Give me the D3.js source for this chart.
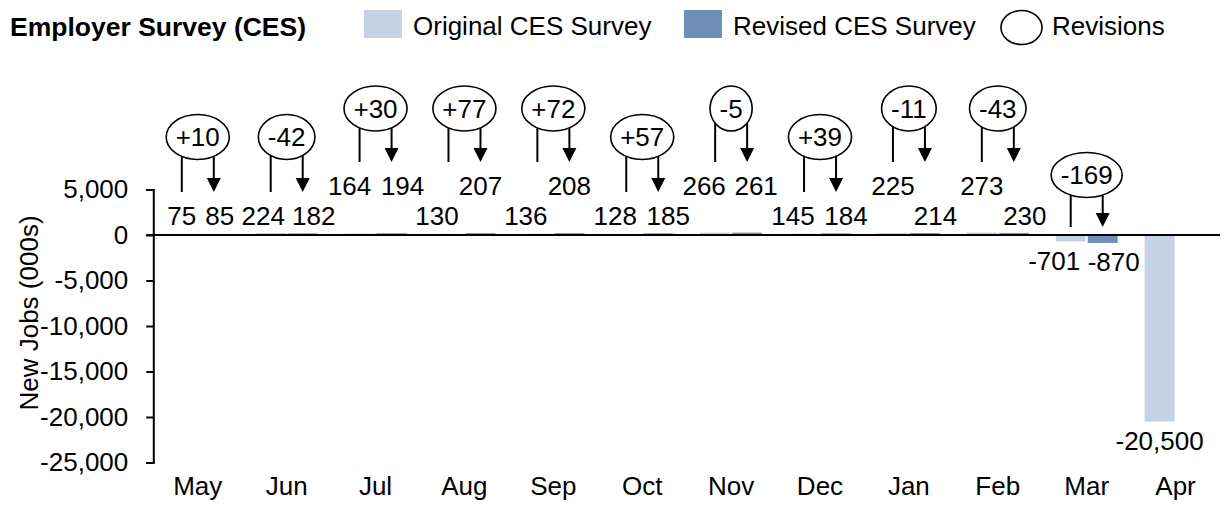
<!DOCTYPE html>
<html>
<head>
<meta charset="utf-8">
<script src="https://cdn.jsdelivr.net/npm/d3@7/dist/d3.min.js"></script>
<style>
  html, body { margin: 0; padding: 0; background: #fff; }
  svg text { font-family: "Liberation Sans", Arial, sans-serif; fill: #000; }
</style>
</head>
<body>
<script>
// ---------------- data ----------------
const categories = ["May", "Jun", "Jul", "Aug", "Sep", "Oct", "Nov", "Dec", "Jan", "Feb", "Mar", "Apr"];
const originalCES = [75, 224, 164, 130, 136, 128, 266, 145, 225, 273, -701, -20500];
const revisedCES  = [85, 182, 194, 207, 208, 185, 261, 184, 214, 230, -870, null];
const yTicks = [5000, 0, -5000, -10000, -15000, -20000, -25000];
const seriesNames = ["Original CES Survey", "Revised CES Survey", "Revisions"];

// ---------------- label layout (manual placement, as in the source) ----------------
const origLabelTier  = [0, 0, 1, 0, 0, 0, 1, 0, 1, 1, 0, 0];       // 0 = lower row, 1 = upper row
const revLabelTier   = [0, 0, 1, 1, 1, 0, 1, 0, 0, 0, 0, 0];
const origLabelShift = [0, -7.5, -10, -11.5, -11.5, -11, -11, -11, 0, 0, -16.5, 0];
const revLabelShift  = [6, 11, 11, 0, 0, 10, 9, 10, 10.5, 11, 11, 0];

// ---------------- setup ----------------
const W = 1225, H = 506, FS = 26;
const colOrig = "#C5D1E4", colRev = "#6F8FBA";
const loc = d3.formatLocale({decimal: ".", thousands: ",", grouping: [3], currency: ["$", ""], minus: "-"});
const fmt = loc.format(",");
const fmtRev = v => (v > 0 ? "+" : "") + fmt(v);

const svg = d3.select("body").append("svg").attr("width", W).attr("height", H);

const x = d3.scaleBand().domain(categories).range([153.3, 1220]);
const xs = d3.scaleBand().domain(["orig", "rev"]).range([13.5, 75.5]).paddingInner(0.0625);
const y = d3.scaleLinear().domain([-25000, 5000]).range([462.5, 189.5]);
const y0 = y(0);
const bw = xs.bandwidth();

// ---------------- bars ----------------
const rows = categories.map((c, i) => ({c, i, o: originalCES[i], r: revisedCES[i]}));

svg.append("g").selectAll("rect.o").data(rows).join("rect")
  .attr("x", d => x(d.c) + xs("orig"))
  .attr("y", d => Math.min(y(d.o), y0))
  .attr("width", bw)
  .attr("height", d => Math.abs(y(d.o) - y0))
  .attr("fill", colOrig);

svg.append("g").selectAll("rect.r").data(rows.filter(d => d.r !== null)).join("rect")
  .attr("x", d => x(d.c) + xs("rev"))
  .attr("y", d => Math.min(y(d.r), y0))
  .attr("width", bw)
  .attr("height", d => Math.abs(y(d.r) - y0))
  .attr("fill", colRev);

// ---------------- axes ----------------
const yAxis = svg.append("g").attr("transform", "translate(153.3,0)")
  .call(d3.axisLeft(y).tickValues(yTicks).tickSize(7).tickPadding(18).tickFormat(fmt));
yAxis.selectAll("path, line").attr("stroke", "#000").attr("stroke-width", 2);
yAxis.selectAll("text").attr("font-size", FS).attr("font-family", "Liberation Sans, Arial, sans-serif")
  .attr("fill", "#000");

svg.append("line").attr("x1", 146.3).attr("x2", 1220).attr("y1", y0).attr("y2", y0)
  .attr("stroke", "#000").attr("stroke-width", 2);

svg.append("g").selectAll("text").data(categories).join("text")
  .attr("x", d => x(d) + x.bandwidth() / 2)
  .attr("y", 495)
  .attr("text-anchor", "middle")
  .attr("font-size", FS)
  .text(d => d);

svg.append("text")
  .attr("transform", "translate(38,313) rotate(-90)")
  .attr("text-anchor", "middle")
  .attr("font-size", FS)
  .text("New Jobs (000s)");

// ---------------- value labels ----------------
function labelY(v, tier) {
  if (v >= 0) return y0 - (tier ? 40 : 10);
  return y(v) + 28.5;
}
const lg = svg.append("g").attr("font-size", FS).attr("text-anchor", "middle");
rows.forEach(d => {
  lg.append("text")
    .attr("x", x(d.c) + xs("orig") + bw / 2 + origLabelShift[d.i])
    .attr("y", labelY(d.o, origLabelTier[d.i]))
    .text(fmt(d.o));
  if (d.r !== null) {
    lg.append("text")
      .attr("x", x(d.c) + xs("rev") + bw / 2 + revLabelShift[d.i])
      .attr("y", labelY(d.r, revLabelTier[d.i]))
      .text(fmt(d.r));
  }
});

// ---------------- revision callouts ----------------
const ag = svg.append("g");
rows.filter(d => d.r !== null).forEach(d => {
  const rev = d.r - d.o;
  const tier = d.o < 0 ? "neg" : ((origLabelTier[d.i] || revLabelTier[d.i]) ? "high" : "low");
  const cy = y0 - {low: 98, high: 126.5, neg: 60}[tier];
  const lineBottom = y0 - {low: 43, high: 73, neg: 8}[tier];
  const cx = x(d.c) + x.bandwidth() / 2;
  const g = ag.append("g");
  const ell = g.append("ellipse");
  const t = g.append("text").attr("x", cx).attr("y", cy).attr("dy", "0.35em")
    .attr("text-anchor", "middle").attr("font-size", FS).text(fmtRev(rev));
  const tw = t.node().getComputedTextLength();
  const rx = tw / 2 + 9.5, ry = 22.5;
  ell.attr("cx", cx).attr("cy", cy).attr("rx", rx).attr("ry", ry)
    .attr("fill", "#fff").attr("stroke", "#000").attr("stroke-width", 1.6);
  const edge = xx => cy + ry * Math.sqrt(Math.max(0, 1 - Math.pow((xx - cx) / rx, 2)));
  const xl = x(d.c) + xs("orig") + bw / 2;
  const xr = x(d.c) + xs("rev") + bw / 2;
  g.append("line").attr("x1", xl).attr("x2", xl).attr("y1", edge(xl)).attr("y2", lineBottom)
    .attr("stroke", "#000").attr("stroke-width", 2);
  g.append("line").attr("x1", xr).attr("x2", xr).attr("y1", edge(xr)).attr("y2", lineBottom - 13)
    .attr("stroke", "#000").attr("stroke-width", 2);
  g.append("path")
    .attr("d", `M${xr - 7},${lineBottom - 14}L${xr + 7},${lineBottom - 14}L${xr},${lineBottom}Z`)
    .attr("fill", "#000");
});

// ---------------- title & legend ----------------
svg.append("text").attr("x", 10).attr("y", 36).attr("font-size", 26.5).attr("font-weight", "bold")
  .text("Employer Survey (CES)");

const leg = svg.append("g").attr("font-size", FS);
leg.append("rect").attr("x", 364).attr("y", 10).attr("width", 38).attr("height", 28).attr("fill", colOrig);
leg.append("text").attr("x", 413).attr("y", 35).text(seriesNames[0]);
leg.append("rect").attr("x", 684).attr("y", 10).attr("width", 38).attr("height", 28).attr("fill", colRev);
leg.append("text").attr("x", 733).attr("y", 35).text(seriesNames[1]);
leg.append("ellipse").attr("cx", 1021.5).attr("cy", 27.5).attr("rx", 20.5).attr("ry", 17)
  .attr("fill", "#fff").attr("stroke", "#000").attr("stroke-width", 1.6);
leg.append("text").attr("x", 1052).attr("y", 35).text(seriesNames[2]);
</script>
</body>
</html>
